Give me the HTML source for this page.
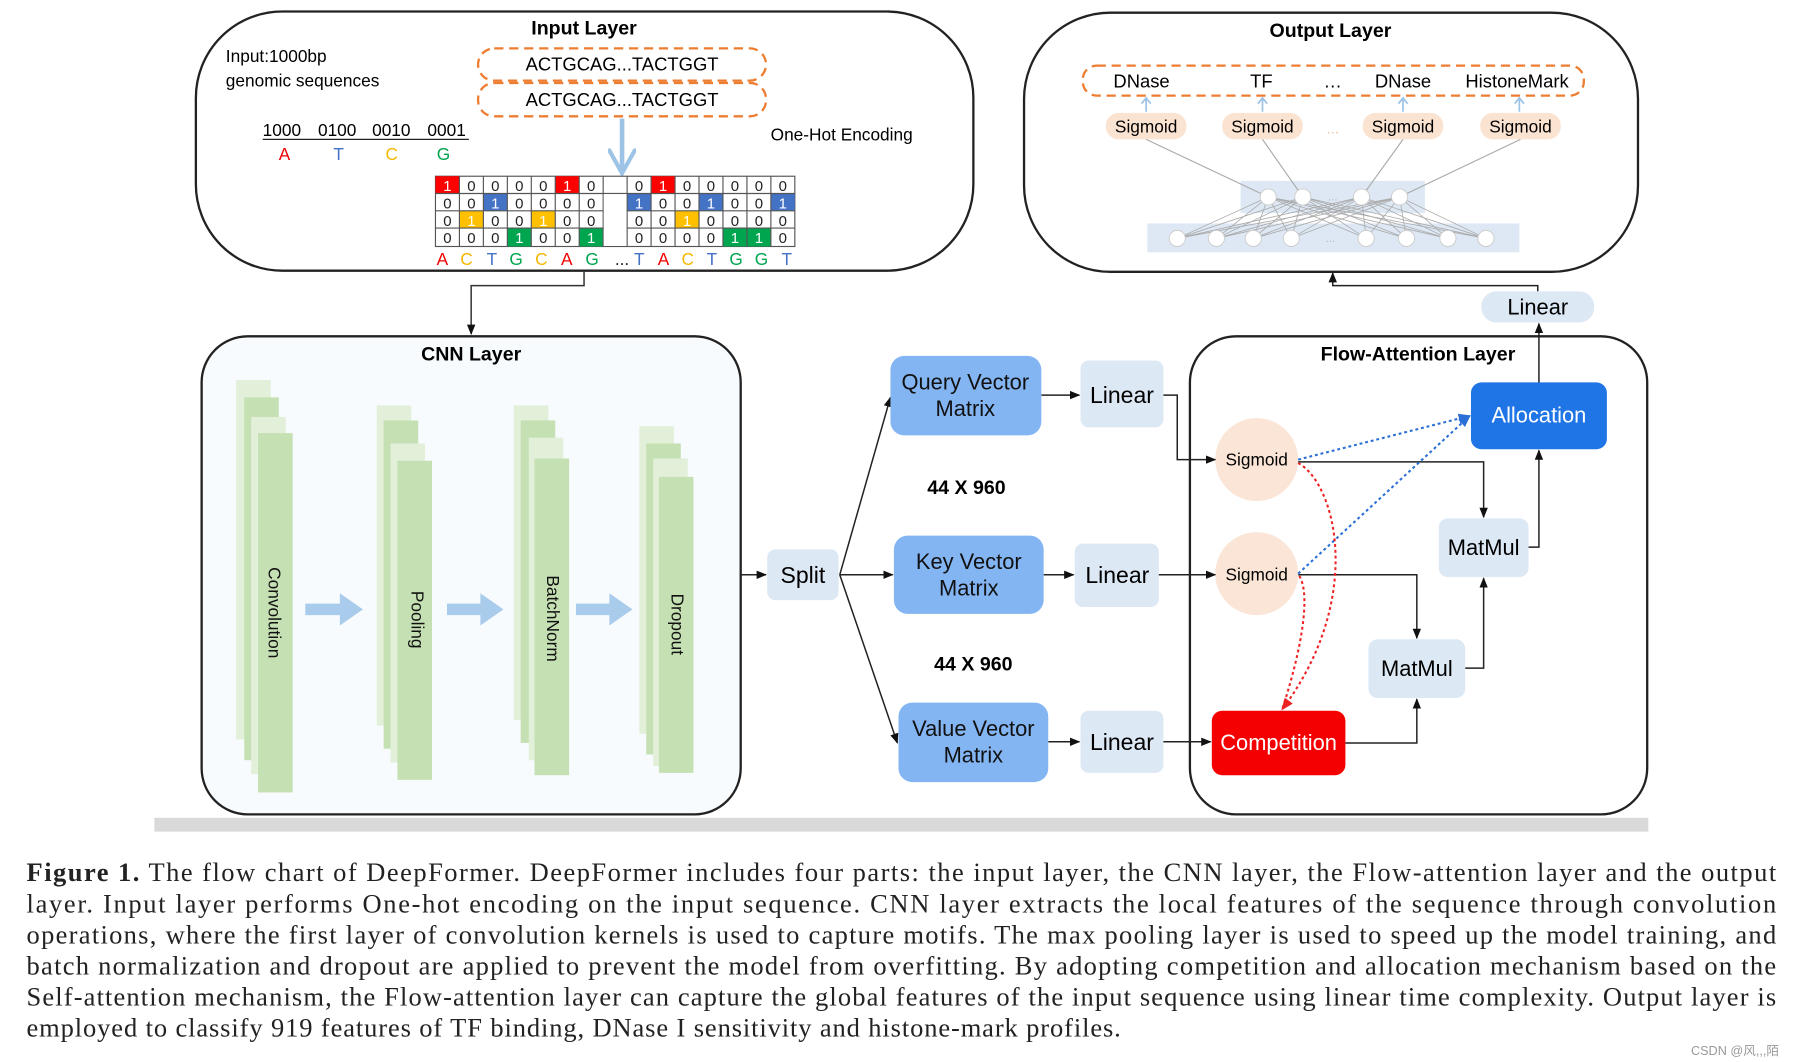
<!DOCTYPE html>
<html><head><meta charset="utf-8"><style>
html,body{margin:0;padding:0;background:#fff;width:1797px;height:1062px;overflow:hidden}
svg{display:block}
.s{font-family:"Liberation Sans",Arial,sans-serif}
.c{font-family:"Liberation Serif","Noto Serif CJK SC",serif}
</style></head><body>
<svg width="1797" height="1062" viewBox="0 0 1560 922" xmlns="http://www.w3.org/2000/svg">
<defs>
<marker id="a" viewBox="0 0 10 10" refX="9" refY="5" markerWidth="7" markerHeight="7" orient="auto"><path d="M0,1 L10,5 L0,9 z" fill="#111"/></marker>
<marker id="ab" viewBox="0 0 10 10" refX="9" refY="5" markerWidth="6" markerHeight="6" orient="auto"><path d="M0,1 L10,5 L0,9 z" fill="#2a6fd6"/></marker>
<marker id="ar" viewBox="0 0 10 10" refX="9" refY="5" markerWidth="6" markerHeight="6" orient="auto"><path d="M0,1 L10,5 L0,9 z" fill="#e22"/></marker>
<marker id="al" viewBox="0 0 10 10" refX="8" refY="5" markerWidth="6" markerHeight="6" orient="auto"><path d="M0,0 L9,5 L0,10" fill="none" stroke="#9dc3e6" stroke-width="1.5"/></marker>
</defs>

<!-- INPUT LAYER -->
<rect x="170" y="10" width="675" height="225" rx="75" fill="#fff" stroke="#222" stroke-width="2"/>
<text x="507" y="30" class="s" font-size="17" font-weight="bold" text-anchor="middle">Input Layer</text>
<text x="196" y="54" class="s" font-size="15">Input:1000bp</text>
<text x="196" y="75" class="s" font-size="15">genomic sequences</text>
<rect x="415" y="42" width="250" height="28" rx="14" fill="none" stroke="#ed7d31" stroke-width="2" stroke-dasharray="8,5"/>
<rect x="415" y="72" width="250" height="29" rx="14" fill="none" stroke="#ed7d31" stroke-width="2" stroke-dasharray="8,5"/>
<text x="540" y="61" class="s" font-size="16" text-anchor="middle">ACTGCAG...TACTGGT</text>
<text x="540" y="92" class="s" font-size="16" text-anchor="middle">ACTGCAG...TACTGGT</text>
<g class="s" font-size="15">
<text x="228" y="118">1000</text><text x="276" y="118">0100</text><text x="323" y="118">0010</text><text x="371" y="118">0001</text></g>
<line x1="228" y1="121" x2="407" y2="121" stroke="#222" stroke-width="1"/>
<g class="s" font-size="15" text-anchor="middle">
<text x="247" y="139" fill="#e00">A</text><text x="294" y="139" fill="#4472c4">T</text><text x="340" y="139" fill="#f5b800">C</text><text x="385" y="139" fill="#00a550">G</text></g>
<line x1="540" y1="103" x2="540" y2="148" stroke="#9dc3e6" stroke-width="4" marker-end="url(#al)"/>
<text x="669" y="122" class="s" font-size="15">One-Hot Encoding</text>
<!-- grid -->
<g>
<rect x="378" y="153" width="312" height="61" fill="#fff" stroke="#555" stroke-width="1"/>
<rect x="378" y="153" width="20.8" height="15" fill="#f00"/><rect x="482" y="153" width="20.8" height="15" fill="#f00"/><rect x="565.2" y="153" width="20.8" height="15" fill="#f00"/>
<rect x="419.6" y="168" width="20.8" height="15" fill="#4472c4"/><rect x="544.4" y="168" width="20.8" height="15" fill="#4472c4"/><rect x="606.8" y="168" width="20.8" height="15" fill="#4472c4"/><rect x="669.2" y="168" width="20.8" height="15" fill="#4472c4"/>
<rect x="398.8" y="183" width="20.8" height="15" fill="#ffc000"/><rect x="461.2" y="183" width="20.8" height="15" fill="#ffc000"/><rect x="586" y="183" width="20.8" height="15" fill="#ffc000"/>
<rect x="440.4" y="198" width="20.8" height="16" fill="#00a550"/><rect x="502.8" y="198" width="20.8" height="16" fill="#00a550"/><rect x="627.6" y="198" width="20.8" height="16" fill="#00a550"/><rect x="648.4" y="198" width="20.8" height="16" fill="#00a550"/>
<g stroke="#555" stroke-width="1">
<line x1="378" y1="168" x2="690" y2="168"/><line x1="378" y1="183" x2="690" y2="183"/><line x1="378" y1="198" x2="690" y2="198"/>
<line x1="398.8" y1="153" x2="398.8" y2="214"/><line x1="419.6" y1="153" x2="419.6" y2="214"/><line x1="440.4" y1="153" x2="440.4" y2="214"/><line x1="461.2" y1="153" x2="461.2" y2="214"/><line x1="482" y1="153" x2="482" y2="214"/><line x1="502.8" y1="153" x2="502.8" y2="214"/><line x1="523.6" y1="153" x2="523.6" y2="214"/>
<line x1="544.4" y1="153" x2="544.4" y2="214"/><line x1="565.2" y1="153" x2="565.2" y2="214"/><line x1="586" y1="153" x2="586" y2="214"/><line x1="606.8" y1="153" x2="606.8" y2="214"/><line x1="627.6" y1="153" x2="627.6" y2="214"/><line x1="648.4" y1="153" x2="648.4" y2="214"/><line x1="669.2" y1="153" x2="669.2" y2="214"/>
</g>
<rect x="524.1" y="168.5" width="19.8" height="45" fill="#fff"/>
<g class="s" font-size="13" text-anchor="middle">
<text y="166" fill="#222"><tspan x="388.4" fill="#fff">1</tspan><tspan x="409.2">0</tspan><tspan x="430">0</tspan><tspan x="450.8">0</tspan><tspan x="471.6">0</tspan><tspan x="492.4" fill="#fff">1</tspan><tspan x="513.2">0</tspan><tspan x="554.8">0</tspan><tspan x="575.6" fill="#fff">1</tspan><tspan x="596.4">0</tspan><tspan x="617.2">0</tspan><tspan x="638">0</tspan><tspan x="658.8">0</tspan><tspan x="679.6">0</tspan></text>
<text y="181" fill="#222"><tspan x="388.4">0</tspan><tspan x="409.2">0</tspan><tspan x="430" fill="#fff">1</tspan><tspan x="450.8">0</tspan><tspan x="471.6">0</tspan><tspan x="492.4">0</tspan><tspan x="513.2">0</tspan><tspan x="554.8" fill="#fff">1</tspan><tspan x="575.6">0</tspan><tspan x="596.4">0</tspan><tspan x="617.2" fill="#fff">1</tspan><tspan x="638">0</tspan><tspan x="658.8">0</tspan><tspan x="679.6" fill="#fff">1</tspan></text>
<text y="196" fill="#222"><tspan x="388.4">0</tspan><tspan x="409.2" fill="#fff">1</tspan><tspan x="430">0</tspan><tspan x="450.8">0</tspan><tspan x="471.6" fill="#fff">1</tspan><tspan x="492.4">0</tspan><tspan x="513.2">0</tspan><tspan x="554.8">0</tspan><tspan x="575.6">0</tspan><tspan x="596.4" fill="#fff">1</tspan><tspan x="617.2">0</tspan><tspan x="638">0</tspan><tspan x="658.8">0</tspan><tspan x="679.6">0</tspan></text>
<text y="211" fill="#222"><tspan x="388.4">0</tspan><tspan x="409.2">0</tspan><tspan x="430">0</tspan><tspan x="450.8" fill="#fff">1</tspan><tspan x="471.6">0</tspan><tspan x="492.4">0</tspan><tspan x="513.2" fill="#fff">1</tspan><tspan x="554.8">0</tspan><tspan x="575.6">0</tspan><tspan x="596.4">0</tspan><tspan x="617.2">0</tspan><tspan x="638" fill="#fff">1</tspan><tspan x="658.8" fill="#fff">1</tspan><tspan x="679.6">0</tspan></text>
<text y="230" font-size="15"><tspan x="384" fill="#e00">A</tspan><tspan x="405" fill="#f5b800">C</tspan><tspan x="427" fill="#4472c4">T</tspan><tspan x="448" fill="#00a550">G</tspan><tspan x="470" fill="#f5b800">C</tspan><tspan x="492" fill="#e00">A</tspan><tspan x="514" fill="#00a550">G</tspan><tspan x="540" fill="#222">...</tspan><tspan x="555" fill="#4472c4">T</tspan><tspan x="576" fill="#e00">A</tspan><tspan x="597" fill="#f5b800">C</tspan><tspan x="618" fill="#4472c4">T</tspan><tspan x="639" fill="#00a550">G</tspan><tspan x="661" fill="#00a550">G</tspan><tspan x="683" fill="#4472c4">T</tspan></text>
</g></g>
<polyline points="507,235 507,248 409,248 409,290" fill="none" stroke="#333" stroke-width="1.3" marker-end="url(#a)"/>

<!-- OUTPUT LAYER -->
<rect x="889" y="11" width="533" height="225" rx="75" fill="#fff" stroke="#222" stroke-width="2"/>
<text x="1155" y="32" class="s" font-size="17" font-weight="bold" text-anchor="middle">Output Layer</text>
<rect x="940" y="57" width="435" height="26" rx="12" fill="none" stroke="#ed7d31" stroke-width="2" stroke-dasharray="8,5"/>
<g class="s" font-size="16" text-anchor="middle"><text x="991" y="76">DNase</text><text x="1095" y="76">TF</text><text x="1157" y="76">…</text><text x="1218" y="76">DNase</text><text x="1317" y="76">HistoneMark</text></g>
<g stroke="#9dc3e6" stroke-width="1.5" fill="none"><path d="M995,97 V86 M991,90 L995,85 L999,90"/><path d="M1096,97 V86 M1092,90 L1096,85 L1100,90"/><path d="M1218,97 V86 M1214,90 L1218,85 L1222,90"/><path d="M1319,97 V86 M1315,90 L1319,85 L1323,90"/></g>
<g fill="#fbe3d1"><rect x="960" y="98" width="70" height="23" rx="11"/><rect x="1061" y="98" width="70" height="23" rx="11"/><rect x="1183" y="98" width="70" height="23" rx="11"/><rect x="1285" y="98" width="70" height="23" rx="11"/></g>
<g class="s" font-size="15" text-anchor="middle"><text x="995" y="115">Sigmoid</text><text x="1096" y="115">Sigmoid</text><text x="1218" y="115">Sigmoid</text><text x="1320" y="115">Sigmoid</text></g>
<text x="1157" y="116" class="s" font-size="13" fill="#f3c9a8" text-anchor="middle">...</text>
<rect x="1077" y="157" width="160" height="28" fill="#dde8f4"/>
<rect x="996" y="194" width="323" height="25" fill="#dde8f4"/>
<g stroke="#aaa" stroke-width="1"><line x1="995" y1="121" x2="1101" y2="171"/><line x1="1096" y1="121" x2="1131" y2="171"/><line x1="1218" y1="121" x2="1182" y2="171"/><line x1="1320" y1="121" x2="1215" y2="171"/></g>
<g stroke="#aaa" stroke-width="0.7">
<path d="M1101,171 L1022,207 M1101,171 L1056,207 M1101,171 L1088,207 M1101,171 L1121,207 M1101,171 L1186,207 M1101,171 L1221,207 M1101,171 L1257,207 M1101,171 L1290,207"/>
<path d="M1131,171 L1022,207 M1131,171 L1056,207 M1131,171 L1088,207 M1131,171 L1121,207 M1131,171 L1186,207 M1131,171 L1221,207 M1131,171 L1257,207 M1131,171 L1290,207"/>
<path d="M1182,171 L1022,207 M1182,171 L1056,207 M1182,171 L1088,207 M1182,171 L1121,207 M1182,171 L1186,207 M1182,171 L1221,207 M1182,171 L1257,207 M1182,171 L1290,207"/>
<path d="M1215,171 L1022,207 M1215,171 L1056,207 M1215,171 L1088,207 M1215,171 L1121,207 M1215,171 L1186,207 M1215,171 L1221,207 M1215,171 L1257,207 M1215,171 L1290,207"/>
</g>
<g fill="#fff" stroke="#ccc" stroke-width="0.8">
<circle cx="1101" cy="171" r="7"/><circle cx="1131" cy="171" r="7"/><circle cx="1182" cy="171" r="7"/><circle cx="1215" cy="171" r="7"/>
<circle cx="1022" cy="207" r="7"/><circle cx="1056" cy="207" r="7"/><circle cx="1088" cy="207" r="7"/><circle cx="1121" cy="207" r="7"/><circle cx="1186" cy="207" r="7"/><circle cx="1221" cy="207" r="7"/><circle cx="1257" cy="207" r="7"/><circle cx="1290" cy="207" r="7"/></g>
<text x="1157" y="174" class="s" font-size="10" fill="#bbb" text-anchor="middle">...</text>
<text x="1155" y="210" class="s" font-size="10" fill="#bbb" text-anchor="middle">...</text>

<!-- CNN LAYER -->
<rect x="175" y="292" width="468" height="415" rx="40" fill="#f8fbfd" stroke="#222" stroke-width="2"/>
<text x="409" y="313" class="s" font-size="17" font-weight="bold" text-anchor="middle">CNN Layer</text>
<g>
<rect x="205" y="330" width="30" height="312" fill="#e2efd9"/><rect x="212" y="345" width="30" height="315" fill="#c5e0b3"/><rect x="218" y="362" width="30" height="310" fill="#e2efd9"/><rect x="224" y="376" width="30" height="312" fill="#c5e0b3"/>
<rect x="327" y="352" width="30" height="278" fill="#e2efd9"/><rect x="333" y="365" width="30" height="285" fill="#c5e0b3"/><rect x="339" y="385" width="30" height="277" fill="#e2efd9"/><rect x="345" y="400" width="30" height="277" fill="#c5e0b3"/>
<rect x="446" y="352" width="30" height="273" fill="#e2efd9"/><rect x="452" y="365" width="30" height="280" fill="#c5e0b3"/><rect x="459" y="380" width="30" height="280" fill="#e2efd9"/><rect x="464" y="398" width="30" height="275" fill="#c5e0b3"/>
<rect x="555" y="370" width="30" height="267" fill="#e2efd9"/><rect x="561" y="385" width="30" height="270" fill="#c5e0b3"/><rect x="567" y="398" width="30" height="267" fill="#e2efd9"/><rect x="572" y="414" width="30" height="257" fill="#c5e0b3"/>
</g>
<g class="s" font-size="15" fill="#111">
<text transform="translate(233,532) rotate(90)" text-anchor="middle">Convolution</text>
<text transform="translate(357,538) rotate(90)" text-anchor="middle">Pooling</text>
<text transform="translate(475,537) rotate(90)" text-anchor="middle">BatchNorm</text>
<text transform="translate(583,542) rotate(90)" text-anchor="middle">Dropout</text>
</g>
<g fill="#a9cbec"><path d="M265,524 H295 V515 L315,529 L295,543 V534 H265 z"/><path d="M388,524 H417 V515 L437,529 L417,543 V534 H388 z"/><path d="M500,524 H529 V515 L549,529 L529,543 V534 H500 z"/></g>

<!-- MIDDLE -->
<line x1="643" y1="499" x2="665" y2="499" stroke="#222" stroke-width="1.3" marker-end="url(#a)"/>
<rect x="666" y="477" width="62" height="44" rx="7" fill="#dde8f5"/>
<text x="697" y="506" class="s" font-size="20" text-anchor="middle">Split</text>
<g stroke="#222" stroke-width="1.3" fill="none">
<line x1="729" y1="499" x2="773" y2="345" marker-end="url(#a)"/>
<line x1="729" y1="499" x2="775" y2="499" marker-end="url(#a)"/>
<line x1="729" y1="499" x2="779" y2="645" marker-end="url(#a)"/>
<line x1="904" y1="343" x2="937" y2="343" marker-end="url(#a)"/>
<line x1="906" y1="499" x2="932" y2="499" marker-end="url(#a)"/>
<line x1="910" y1="644" x2="937" y2="644" marker-end="url(#a)"/>
</g>
<g fill="#84b5f3"><rect x="773" y="309" width="131" height="69" rx="12"/><rect x="776" y="465" width="130" height="68" rx="12"/><rect x="780" y="610" width="130" height="69" rx="12"/></g>
<g class="s" font-size="19" text-anchor="middle" fill="#111">
<text x="838" y="338">Query Vector</text><text x="838" y="361">Matrix</text>
<text x="841" y="494">Key Vector</text><text x="841" y="517">Matrix</text>
<text x="845" y="639">Value Vector</text><text x="845" y="662">Matrix</text></g>
<g class="s" font-size="17" font-weight="bold" text-anchor="middle"><text x="839" y="429">44 X 960</text><text x="845" y="582">44 X 960</text></g>
<g fill="#dde8f5"><rect x="938" y="313" width="72" height="58" rx="7"/><rect x="933" y="472" width="73" height="55" rx="7"/><rect x="938" y="617" width="72" height="54" rx="7"/></g>
<g class="s" font-size="20" text-anchor="middle"><text x="974" y="350">Linear</text><text x="970" y="506">Linear</text><text x="974" y="651">Linear</text></g>

<!-- FLOW ATTENTION -->
<rect x="1033" y="292" width="397" height="415" rx="40" fill="#fff" stroke="#222" stroke-width="2"/>
<text x="1231" y="313" class="s" font-size="17" font-weight="bold" text-anchor="middle">Flow-Attention Layer</text>
<circle cx="1091" cy="399" r="36" fill="#fbe5d6"/><circle cx="1091" cy="498" r="36" fill="#fbe5d6"/>
<g class="s" font-size="15" text-anchor="middle"><text x="1091" y="404">Sigmoid</text><text x="1091" y="504">Sigmoid</text></g>
<rect x="1052" y="617" width="116" height="56" rx="9" fill="#f50000"/>
<text x="1110" y="651" class="s" font-size="19" fill="#fff" text-anchor="middle">Competition</text>
<rect x="1277" y="332" width="118" height="58" rx="9" fill="#1f74e6"/>
<text x="1336" y="367" class="s" font-size="19" fill="#fff" text-anchor="middle">Allocation</text>
<rect x="1249" y="450" width="78" height="51" rx="8" fill="#dde8f5"/>
<rect x="1188" y="555" width="84" height="51" rx="8" fill="#dde8f5"/>
<g class="s" font-size="19" text-anchor="middle"><text x="1288" y="482">MatMul</text><text x="1230" y="587">MatMul</text></g>
<g stroke="#222" stroke-width="1.3" fill="none">
<polyline points="1010,343 1022,343 1022,399 1055,399" marker-end="url(#a)"/>
<line x1="1006" y1="499" x2="1055" y2="499" marker-end="url(#a)"/>
<line x1="1010" y1="644" x2="1051" y2="644" marker-end="url(#a)"/>
<polyline points="1127,401 1288,401 1288,449" marker-end="url(#a)"/>
<polyline points="1127,499 1230,499 1230,554" marker-end="url(#a)"/>
<polyline points="1168,645 1230,645 1230,607" marker-end="url(#a)"/>
<polyline points="1272,580 1288,580 1288,502" marker-end="url(#a)"/>
<polyline points="1327,475 1336,475 1336,391" marker-end="url(#a)"/>
<line x1="1336" y1="332" x2="1336" y2="281" marker-end="url(#a)"/>
<polyline points="1335,253 1335,248 1157,248 1157,237" marker-end="url(#a)"/>
</g>
<rect x="1286" y="253" width="98" height="27" rx="13" fill="#dde8f5"/>
<text x="1335" y="273" class="s" font-size="19" text-anchor="middle">Linear</text>
<g fill="none" stroke-width="1.8" stroke-dasharray="2.5,2.5">
<line x1="1127" y1="399" x2="1276" y2="361" stroke="#2a6fd6" marker-end="url(#ab)"/>
<line x1="1127" y1="498" x2="1276" y2="361" stroke="#2a6fd6" marker-end="url(#ab)"/>
<path d="M1127,402 C1160,420 1185,520 1113,616" stroke="#e22" marker-end="url(#ar)"/>
<path d="M1128,500 C1140,520 1125,580 1113,616" stroke="#e22"/>
</g>

<rect x="134" y="710" width="1297" height="12" fill="#d9d9d9"/>

<!-- CAPTION -->
<g class="c" font-size="23" fill="#222">
<text x="23" y="765" textLength="1519" lengthAdjust="spacing"><tspan font-weight="bold">Figure 1.</tspan> The flow chart of DeepFormer. DeepFormer includes four parts: the input layer, the CNN layer, the Flow-attention layer and the output</text>
<text x="23" y="792" textLength="1519" lengthAdjust="spacing">layer. Input layer performs One-hot encoding on the input sequence. CNN layer extracts the local features of the sequence through convolution</text>
<text x="23" y="819" textLength="1519" lengthAdjust="spacing">operations, where the first layer of convolution kernels is used to capture motifs. The max pooling layer is used to speed up the model training, and</text>
<text x="23" y="846" textLength="1519" lengthAdjust="spacing">batch normalization and dropout are applied to prevent the model from overfitting. By adopting competition and allocation mechanism based on the</text>
<text x="23" y="873" textLength="1519" lengthAdjust="spacing">Self-attention mechanism, the Flow-attention layer can capture the global features of the input sequence using linear time complexity. Output layer is</text>
<text x="23" y="900" textLength="950" lengthAdjust="spacing">employed to classify 919 features of TF binding, DNase I sensitivity and histone-mark profiles.</text>
</g>
<text x="1468" y="916" class="s" font-size="11" fill="#999" font-family="Liberation Sans, Noto Sans CJK SC, sans-serif">CSDN @风,,,陌</text>
</svg>
</body></html>
